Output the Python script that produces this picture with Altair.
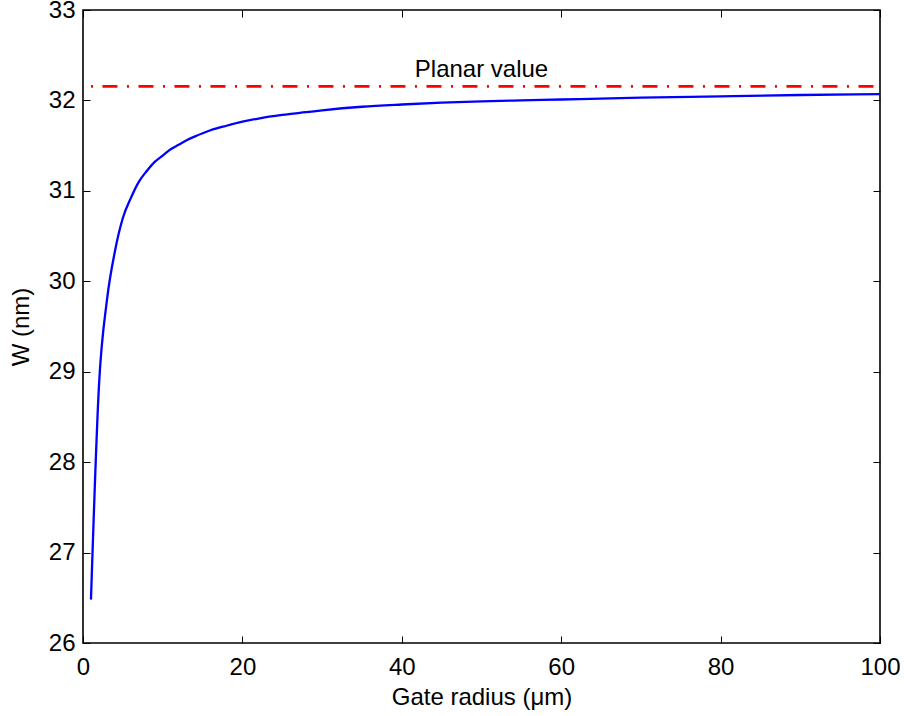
import altair as alt
import pandas as pd

# ---- data ----
radius = [1, 2, 3, 4, 5, 6, 7, 8, 9, 10, 11, 12, 13, 14, 16, 18, 20, 22, 25, 28, 30, 35, 40, 45,
          50, 55, 60, 70, 80, 90, 100]
width_nm = [26.48, 28.84, 29.79, 30.33, 30.70, 30.92, 31.10, 31.22, 31.32, 31.39, 31.46, 31.51,
            31.56, 31.60, 31.67, 31.72, 31.765, 31.80, 31.84, 31.87, 31.89, 31.93, 31.955, 31.975,
            31.99, 32.00, 32.01, 32.03, 32.045, 32.06, 32.07]
planar_x = [1, 100]
planar_value = 32.155
label_text = ["Planar value"]
label_x = [50]
label_y = [32.26]
x_ticks = [0, 20, 40, 60, 80, 100]
y_ticks = [26, 27, 28, 29, 30, 31, 32, 33]

FONT = "Liberation Sans"
FS = 24

curve = pd.DataFrame({"r": radius, "w": width_nm})
planar = pd.DataFrame({"r": planar_x, "w": [planar_value] * len(planar_x)})
label = pd.DataFrame({"r": label_x, "w": label_y, "t": label_text})

xscale = alt.Scale(domain=[0, 100], nice=False, zero=False)
yscale = alt.Scale(domain=[26, 33], nice=False, zero=False)

x_bottom = alt.Axis(values=x_ticks, grid=False, domain=False, tickSize=7, offset=-7,
                    tickColor="black", tickWidth=1, orient="bottom", labelFlush=False,
                    labelFont=FONT, labelFontSize=FS, labelColor="black", labelPadding=12,
                    title="Gate radius (μm)", titleFont=FONT, titleFontSize=FS,
                    titleFontWeight="normal", titleColor="black", titlePadding=6)
y_left = alt.Axis(values=y_ticks, grid=False, domain=False, tickSize=7, offset=-7,
                  tickColor="black", tickWidth=1, orient="left", labelFlush=False,
                  labelFont=FONT, labelFontSize=FS, labelColor="black", labelPadding=8,
                  title="W (nm)", titleFont=FONT, titleFontSize=FS,
                  titleFontWeight="normal", titleColor="black", titlePadding=15)
x_top = alt.Axis(values=x_ticks, grid=False, domain=False, tickSize=7, offset=-7,
                 tickColor="black", tickWidth=1, orient="top", labels=False, title=None)
y_right = alt.Axis(values=y_ticks, grid=False, domain=False, tickSize=7, offset=-7,
                   tickColor="black", tickWidth=1, orient="right", labels=False, title=None)

line = alt.Chart(curve).mark_line(
    color="#0000FF", strokeWidth=2.3, interpolate="monotone"
).encode(
    x=alt.X("r:Q", scale=xscale, axis=x_bottom),
    y=alt.Y("w:Q", scale=yscale, axis=y_left),
)

planar_line = alt.Chart(planar).mark_line(
    color="#FF0000", strokeWidth=2.6, strokeDash=[15, 9.5, 2, 9.5], strokeDashOffset=24.5
).encode(
    x=alt.X("r:Q", scale=xscale, axis=x_top),
    y=alt.Y("w:Q", scale=yscale, axis=y_right),
)

text = alt.Chart(label).mark_text(
    font=FONT, fontSize=FS, color="black", align="center", baseline="alphabetic"
).encode(
    x=alt.X("r:Q", scale=xscale, axis=None),
    y=alt.Y("w:Q", scale=yscale, axis=None),
    text="t:N",
)

chart = alt.layer(line, planar_line, text).resolve_axis(
    x="independent", y="independent"
).properties(
    width=797, height=633,
    autosize=alt.AutoSizeParams(type="none"),
    padding={"left": 83, "top": 10, "right": 24, "bottom": 73},
    background="white",
).configure_view(stroke="black", strokeWidth=1.6)

chart.save("out.html", embed_options={"renderer": "svg", "actions": False})
